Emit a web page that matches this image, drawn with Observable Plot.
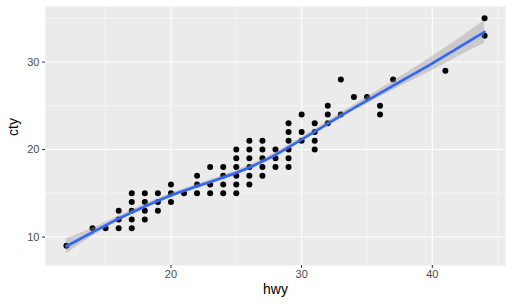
<!DOCTYPE html>
<html><head>
<meta charset="utf-8">
<script src="https://cdn.jsdelivr.net/npm/d3@7"></script>
<script src="https://cdn.jsdelivr.net/npm/@observablehq/plot@0.6"></script>
<style>body{margin:0;background:#fff}</style>
</head><body><div id="chart"></div>
<script>
// observed (hwy, cty) points
const hwyVals = [12,14,15,16,16,16,17,17,17,17,17,18,18,18,18,19,19,19,20,20,20,21,22,22,22,23,23,23,24,24,24,24,25,25,25,25,25,25,26,26,26,26,26,26,27,27,27,27,27,28,28,28,29,29,29,29,29,29,30,30,30,31,31,31,31,32,32,32,33,33,34,35,36,36,37,41,44,44];
const ctyVals = [9,11,11,11,12,13,11,12,13,14,15,12,13,14,15,13,14,15,14,15,16,15,15,16,17,15,16,18,15,16,17,18,15,16,17,18,19,20,16,17,18,19,20,21,17,18,19,20,21,18,19,20,18,19,20,21,22,23,21,22,24,20,21,22,23,23,24,25,24,28,26,26,24,25,28,29,33,35];
// smooth curve
const smoothX  = [12, 14, 16, 18, 20, 22, 24, 26, 28, 30, 32, 34, 36, 38, 40, 42, 44];
const smoothY  = [8.95, 10.55, 12.1, 13.5, 14.75, 15.8, 16.8, 17.95, 19.4, 21.15, 22.95, 24.75, 26.45, 28.15, 29.85, 31.65, 33.45];
const smoothLo = [8.1, 10.1, 11.8, 13.25, 14.5, 15.55, 16.55, 17.7, 19.15, 20.9, 22.65, 24.4, 26.0, 27.55, 29.05, 30.65, 32.15];
const smoothHi = [9.8, 11.0, 12.4, 13.75, 15.0, 16.05, 17.05, 18.2, 19.65, 21.4, 23.25, 25.1, 26.9, 28.75, 30.65, 32.65, 34.75];
const xMajor = [20, 30, 40], xMinor = [15, 25, 35, 45];
const yMajor = [10, 20, 30], yMinor = [15, 25, 35];

const points = hwyVals.map((h, i) => ({hwy: h, cty: ctyVals[i]}));
const smooth = smoothX.map((x, i) => ({x, y: smoothY[i], lo: smoothLo[i], hi: smoothHi[i]}));

const chart = Plot.plot({
  width: 512, height: 308,
  marginLeft: 45, marginRight: 7, marginTop: 6, marginBottom: 43,
  style: {fontFamily: "'Liberation Sans', Arial, sans-serif", fontSize: "11px", background: "#fff"},
  x: {domain: [10.4, 45.6]},
  y: {domain: [6.75, 36.35]},
  marks: [
    Plot.frame({fill: "#EBEBEB", stroke: null}),
    Plot.ruleX(xMinor, {stroke: "white", strokeWidth: 0.55}),
    Plot.ruleY(yMinor, {stroke: "white", strokeWidth: 0.55}),
    Plot.ruleX(xMajor, {stroke: "white", strokeWidth: 1.1}),
    Plot.ruleY(yMajor, {stroke: "white", strokeWidth: 1.1}),
    Plot.axisX({ticks: xMajor, tickSize: 3, tickPadding: 2, label: null, fill: "#4D4D4D", stroke: "#333", fontSize: 11}),
    Plot.axisY({ticks: yMajor, tickSize: 3, tickPadding: 3, label: null, fill: "#4D4D4D", stroke: "#333", fontSize: 11}),
    Plot.dot(points, {x: "hwy", y: "cty", r: 3, fill: "black", stroke: null}),
    Plot.areaY(smooth, {x: "x", y1: "lo", y2: "hi", fill: "#999999", fillOpacity: 0.4, curve: "monotone-x"}),
    Plot.line(smooth, {x: "x", y: "y", stroke: "#3366FF", strokeWidth: 2.6, curve: "monotone-x"}),
    Plot.text(["hwy"], {frameAnchor: "bottom", dy: 28, fontSize: 14, fill: "black"}),
    Plot.text(["cty"], {frameAnchor: "left", dx: -32, rotate: -90, fontSize: 14, fill: "black"})
  ]
});
document.getElementById("chart").appendChild(chart);
</script>
</body></html>
